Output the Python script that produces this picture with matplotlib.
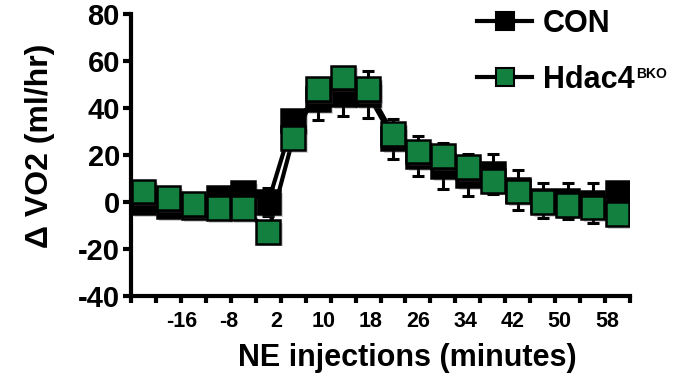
import numpy as np
import matplotlib.pyplot as plt
import matplotlib.patheffects as pe
from matplotlib.lines import Line2D

plt.rcParams['font.family'] = ['Liberation Sans', 'DejaVu Sans']
plt.rcParams['font.weight'] = 'bold'
plt.rcParams['axes.unicode_minus'] = False

# values (delta VO2, ml/hr), one per 4-min bin
con = [0, -1.8, -2.2, 1.7, 3.9, 0, 34.6, 43.7, 45.9, 45.9, 27, 19.5, 15.3, 11.5, 12, 5, 0.7, 0.3, -0.5, 3.7]
con_err = [2, 2, 2, 3, 3, 6, 3, 9, 9.5, 10, 8.5, 8.5, 9.7, 9, 8.5, 8.5, 7.3, 7.6, 8.5, 3]
ko = [4.4, 1.7, -0.9, -2.6, -2.6, -12.7, 27.2, 48, 53, 48, 29, 21.5, 19.5, 14.8, 9, 4.4, -0.1, -1.2, -2.3, -5.1]
ko_err = [3, 3, 2, 3, 3, 3, 3, 4, 4, 4, 4, 4, 4, 4, 4, 4, 4, 4, 4, 3]
tick_labels = ['-16', '-8', '2', '10', '18', '26', '34', '42', '50', '58']
green = '#14803f'

x = np.arange(len(con)) + 0.5

fig = plt.figure(figsize=(6.82, 3.80), dpi=100)
ax = fig.add_axes([131/682, 1 - 296/380, 499/682, 282/380])

shadow = [pe.SimplePatchShadow(offset=(2, -2), alpha=0.25, shadow_rgbFace='0.3'), pe.Normal()]

ax.errorbar(x, con, yerr=con_err, fmt='none', ecolor='black', elinewidth=2.2,
            capsize=4.5, capthick=2.2, zorder=2)
ax.errorbar(x, ko, yerr=ko_err, fmt='none', ecolor='black', elinewidth=2.2,
            capsize=4.5, capthick=2.2, zorder=2)
ax.plot(x, con, color='black', lw=3, zorder=3)
ax.plot(x, ko, color='black', lw=3, zorder=3)
ax.plot(x, con, 's', ms=17, mfc='black', mec='black', mew=1.8, zorder=4, path_effects=shadow)
ax.plot(x, ko, 's', ms=17, mfc=green, mec='black', mew=1.8, zorder=5, path_effects=shadow)

ax.set_xlim(0, 20)
ax.set_ylim(-40, 80)
for s in ['top', 'right']:
    ax.spines[s].set_visible(False)
for s in ['left', 'bottom']:
    ax.spines[s].set_linewidth(3)

ax.set_yticks(range(-40, 81, 20))
ax.tick_params(axis='y', length=6, width=3, labelsize=21, pad=2)
ax.set_xticks(np.arange(0, 21), minor=True)
ax.set_xticks(np.linspace(2.04, 19.08, len(tick_labels)))
ax.set_xticklabels(tick_labels)
ax.tick_params(axis='x', which='major', length=0, labelsize=15.5, pad=11)
ax.tick_params(axis='x', which='minor', length=5, width=3)

fig.text(407/682, 1 - 358/380, 'NE injections (minutes)', ha='center', va='center', fontsize=22)
fig.text(40/682, 1 - 146/380, 'Δ VO2 (ml/hr)', rotation=90, ha='center', va='center', fontsize=23)

handles = [Line2D([], [], color='black', lw=3, marker='s', ms=13, mfc='black', mec='black', mew=1.5),
           Line2D([], [], color='black', lw=3, marker='s', ms=13, mfc=green, mec='black', mew=1.5)]
leg = fig.legend(handles, ['CON', 'Hdac4'], loc='upper left', bbox_to_anchor=(477/682, 1 - 9/380),
                 frameon=False, borderpad=0, borderaxespad=0, handlelength=1.8,
                 handletextpad=0.35, labelspacing=0.85, fontsize=22)

fig.canvas.draw()
bb = leg.get_texts()[1].get_window_extent()
fig.text(bb.x1 / 682 + 0.002, (bb.y1 - 2) / 380, 'BKO', ha='left', va='top', fontsize=10)

fig.savefig('out.png', dpi=100)
